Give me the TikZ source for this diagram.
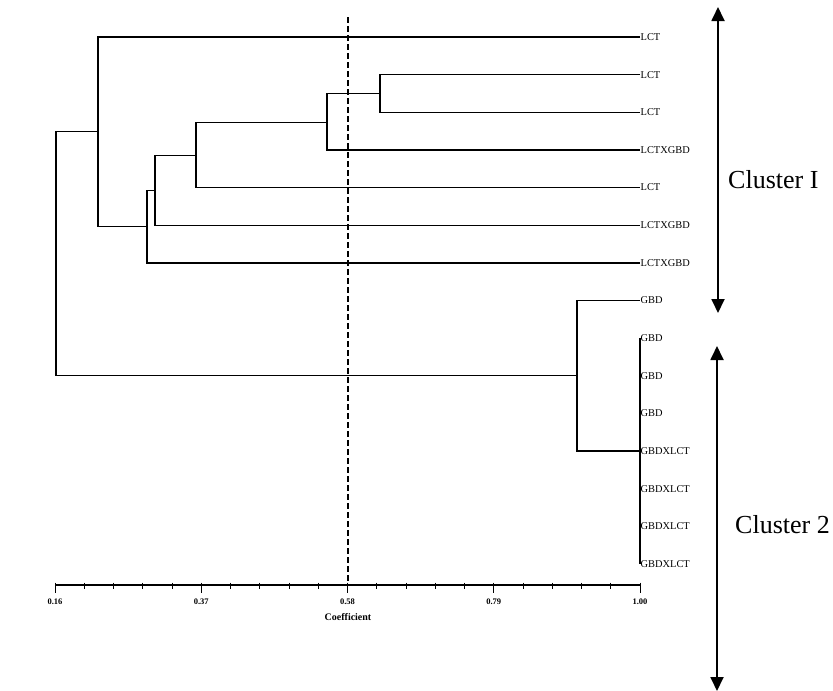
\documentclass[tikz,border=0pt]{standalone}
\usepackage{fontspec}
\setmainfont{Liberation Serif}
\usetikzlibrary{arrows.meta,calc}
\begin{document}
\begin{tikzpicture}[x=1pt,y=-1pt,
  branch/.style={line width=1.3pt,black},
  leaflabel/.style={anchor=west,inner sep=0.5pt,font=\fontsize{10.4}{10.4}\selectfont},
  ticklabel/.style={inner sep=0pt,font=\bfseries\fontsize{8.5}{9}\selectfont},
  axistitle/.style={inner sep=0pt,font=\bfseries\fontsize{10}{10}\selectfont},
  clusterlabel/.style={anchor=west,inner sep=0pt,font=\fontsize{26}{26}\selectfont},
  clusterarrow/.style={line width=1.8pt,{Triangle[width=13pt,length=14pt]}-{Triangle[width=13pt,length=14pt]}},
  cutline/.style={line width=1.4pt,dash pattern=on 6pt off 3pt}
]
\useasboundingbox (0,0) rectangle (833,691);
\fill[white] (0,0) rectangle (833,691);
% leaves
\foreach \i/\t in {1/LCT,2/LCT,3/LCT,4/LCTXGBD,5/LCT,6/LCTXGBD,7/LCTXGBD,8/GBD,9/GBD,10/GBD,11/GBD,12/GBDXLCT,13/GBDXLCT,14/GBDXLCT,15/GBDXLCT}{
  \coordinate (l\i) at (640,{37+37.643*(\i-1)});
  \node[leaflabel] (t\i) at (l\i) {\t};
}
% internal nodes
\coordinate (a) at (380,93.5);
\coordinate (b) at (327,122.5);
\coordinate (c) at (196,155.3);
\coordinate (d) at (155,190.2);
\coordinate (e) at (147,226.5);
\coordinate (f) at (98,131.7);
\coordinate (h) at (640,451);
\coordinate (g) at (577,375.8);
\coordinate (root) at (56,253.7);
% dendrogram
\draw[branch] (l2) -| (a) |- (l3);
\draw[branch] (a) -| (b) |- (l4);
\draw[branch] (b) -| (c) |- (l5);
\draw[branch] (c) -| (d) |- (l6);
\draw[branch] (d) -| (e) |- (l7);
\draw[branch] (l1) -| (f) |- (e);
\draw[branch] (l9) -- (l15);
\draw[branch] (l8) -| (g) |- (h);
\draw[branch] (f) -| (root) |- (g);
% axis
\coordinate (ax0) at (55,585);
\coordinate (ax1) at (640,585);
\draw[line width=1.2pt] (ax0) -- (ax1);
\foreach \k in {0,...,20}{
  \draw[line width=1pt] ($(ax0)+(\k*29.25,-2.5)$) -- ($(ax0)+(\k*29.25,4)$);
}
\foreach \k/\v in {0/0.16,5/0.37,10/0.58,15/0.79,20/1.00}{
  \draw[line width=1pt] ($(ax0)+(\k*29.25,0)$) -- ($(ax0)+(\k*29.25,7.5)$);
  \node[ticklabel] (tk\k) at ($(ax0)+(\k*29.25,17)$) {\v};
}
\node[axistitle] (coef) at (348,617) {Coefficient};
% cut line
\coordinate (cuttop) at (348,17);
\coordinate (cutbot) at (348,585);
\draw[cutline] (cuttop) -- (cutbot);
% cluster arrows
\coordinate (c1top) at (718,7);
\coordinate (c1bot) at (718,313);
\coordinate (c2top) at (717,346);
\coordinate (c2bot) at (717,691);
\draw[clusterarrow] (c1top) -- (c1bot);
\draw[clusterarrow] (c2top) -- (c2bot);
\node[clusterlabel] (cl1) at (728,180) {Cluster I};
\node[clusterlabel] (cl2) at (735,525) {Cluster 2};
\end{tikzpicture}
\end{document}
